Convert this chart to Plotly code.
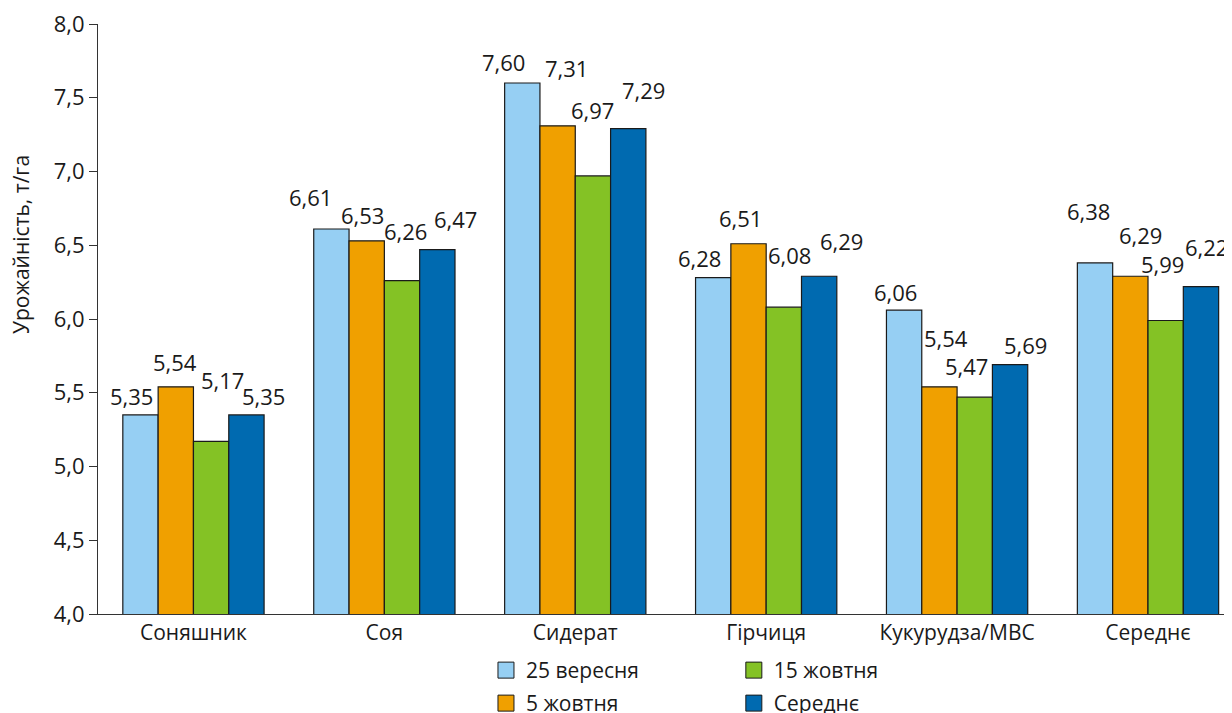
import plotly.graph_objects as go

categories = ["Соняшник", "Соя", "Сидерат", "Гірчиця", "Кукурудза/МВС", "Середнє"]
series_names = ["25 вересня", "5 жовтня", "15 жовтня", "Середнє"]
sep25 = [5.35, 6.61, 7.60, 6.28, 6.06, 6.38]
oct05 = [5.54, 6.53, 7.31, 6.51, 5.54, 6.29]
oct15 = [5.17, 6.26, 6.97, 6.08, 5.47, 5.99]
avg = [5.35, 6.47, 7.29, 6.29, 5.69, 6.22]
y_ticks = [4.0, 4.5, 5.0, 5.5, 6.0, 6.5, 7.0, 7.5, 8.0]

series_values = [sep25, oct05, oct15, avg]
colors = ["#96CFF3", "#F0A000", "#84C225", "#006AB0"]

# label placement offsets (pixels) relative to the top-centre of each bar
label_dx = [[-9, -21, -19, -14, -9, -7],
            [-1, -4, 9, -8, 7, 10],
            [11, 3, 0, 6, -8, -3],
            [17, 18, 15, 22, 15, 6]]
label_dy = [[19, 32, 21, 20, 18, 52],
            [25, 26, 58, 26, 49, 41],
            [61, 50, 66, 52, 31, 56],
            [19, 31, 39, 35, 20, 40]]

FONT = "Open Sans"
TXT = "#1a1a1a"
bargap = 0.26
n = len(series_values)
bw = (1 - bargap) / n

fig = go.Figure()
for i, (name, vals, col) in enumerate(zip(series_names, series_values, colors)):
    fig.add_trace(go.Bar(
        x=categories, y=vals, name=name, showlegend=False,
        marker=dict(color=col, line=dict(color="#1a1a1a", width=1.2)),
    ))

# legend entries (square swatches), one legend box per entry, 2x2 grid
legend_ids = ["legend", "legend3", "legend2", "legend4"]
for i, (name, col) in enumerate(zip(series_names, colors)):
    fig.add_trace(go.Scatter(
        x=[None], y=[None], mode="markers", name=name, legend=legend_ids[i],
        marker=dict(symbol="square", size=18, color=col,
                    line=dict(color="#1a1a1a", width=1)),
    ))

annotations = []
for i, vals in enumerate(series_values):
    for j, v in enumerate(vals):
        annotations.append(dict(
            x=j + (i - (n - 1) / 2) * bw, y=v, xref="x", yref="y",
            text=f"{v:.2f}".replace(".", ","), showarrow=False,
            xanchor="center", yanchor="middle",
            xshift=label_dx[i][j], yshift=label_dy[i][j],
            font=dict(family=FONT, size=22, color=TXT),
        ))

annotations.append(dict(
    text="Урожайність, т/га", textangle=-90, showarrow=False,
    xref="paper", yref="paper", x=-0.068, y=0.627,
    xanchor="center", yanchor="middle",
    font=dict(family=FONT, size=21, color=TXT),
))

leg_common = dict(xref="container", yref="container",
                  xanchor="left", yanchor="top", orientation="v",
                  font=dict(family=FONT, size=21, color=TXT),
                  bgcolor="rgba(0,0,0,0)", tracegroupgap=0)
col_x = [0.3905, 0.593]
row_y = [0.0894, 0.0426]

fig.update_layout(
    width=1224, height=705,
    margin=dict(l=90, r=0, t=16, b=99, autoexpand=False),
    paper_bgcolor="white", plot_bgcolor="white",
    separators=", ",
    barmode="group", bargap=bargap, bargroupgap=0,
    font=dict(family=FONT, size=21, color=TXT),
    annotations=annotations,
    legend=dict(x=col_x[0], y=row_y[0], **leg_common),
    legend2=dict(x=col_x[1], y=row_y[0], **leg_common),
    legend3=dict(x=col_x[0], y=row_y[1], **leg_common),
    legend4=dict(x=col_x[1], y=row_y[1], **leg_common),
)

fig.update_xaxes(
    type="category", range=[-0.5, 5.44], showline=True, linecolor="#333333",
    linewidth=1, ticks="", showgrid=False, zeroline=False,
    tickfont=dict(family=FONT, size=21, color=TXT),
)
fig.update_yaxes(
    range=[4, 8], tickvals=y_ticks, tickformat=".1f", showline=True,
    linecolor="#333333", linewidth=1, ticks="outside", ticklen=8,
    tickcolor="#333333", showgrid=False, zeroline=False,
    ticklabeloverflow="allow",
    tickfont=dict(family=FONT, size=22, color=TXT),
)

fig.write_html("out.html")
